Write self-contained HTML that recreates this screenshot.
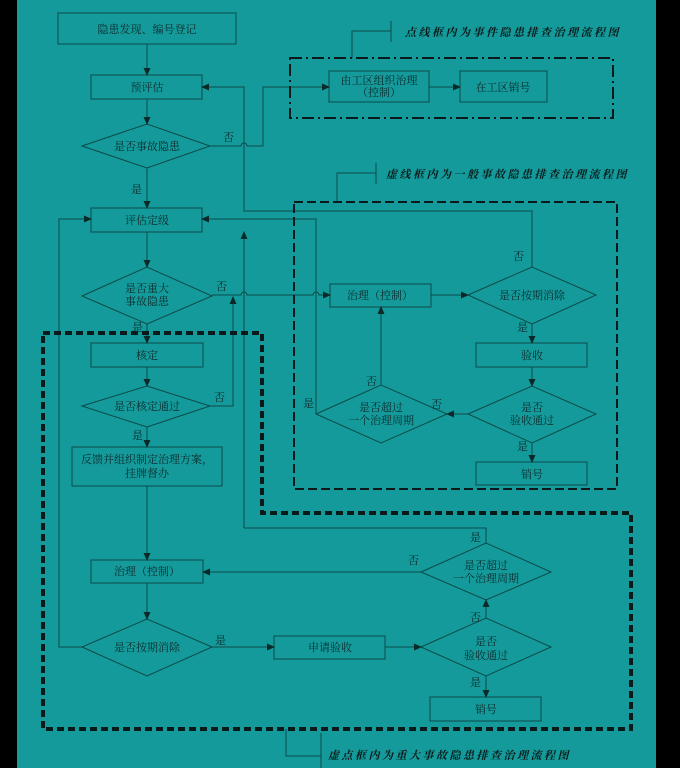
<!DOCTYPE html>
<html><head><meta charset="utf-8"><style>
html,body{margin:0;padding:0;background:#000;}
svg{display:block;}
text{font-family:"Liberation Serif","Noto Serif CJK SC","Noto Sans CJK SC",serif;fill:#0d2a2c;font-size:11px;}
.t{text-anchor:middle;}
.lb{font-weight:bold;font-style:italic;font-size:11px;letter-spacing:2.5px;fill:#0a1a1a;}
</style></head><body>
<svg width="680" height="768" viewBox="0 0 680 768" xmlns="http://www.w3.org/2000/svg">
<defs><marker id="a" markerWidth="8" markerHeight="8" refX="7" refY="4" orient="auto" markerUnits="userSpaceOnUse"><path d="M0,0.5 L8,4 L0,7.5z" fill="#0a2a2a"/></marker></defs>
<rect x="0" y="0" width="680" height="768" fill="#000"/>
<rect x="17" y="0" width="639" height="768" fill="#149a9a"/>
<g stroke="#0b4a4a" stroke-width="1" fill="none">
<rect x="58" y="13" width="178" height="31"/>
<rect x="91" y="75" width="111" height="24"/>
<polygon points="82,146 147,124 210,146 147,168"/>
<rect x="91" y="208" width="111" height="24"/>
<polygon points="82,296 147,267 212,296 147,324"/>
<rect x="91" y="343" width="112" height="24"/>
<polygon points="82,406 147,386 210,406 147,427"/>
<rect x="72" y="447" width="150" height="39"/>
<rect x="91" y="560" width="112" height="23"/>
<polygon points="82,647 147,619 212,647 147,676"/>
<rect x="274" y="636" width="111" height="23"/>
<polygon points="421,647 486,618 551,647 486,676"/>
<rect x="430" y="697" width="111" height="24"/>
<polygon points="421,572 486,543 551,572 486,600"/>
<rect x="329" y="71" width="100" height="31"/>
<rect x="460" y="71" width="87" height="31"/>
<rect x="330" y="284" width="101" height="23"/>
<polygon points="468,295 532,267 596,295 532,324"/>
<rect x="476" y="343" width="111" height="24"/>
<polygon points="468,414 532,386 596,414 532,443"/>
<polygon points="316,414 381,385 447,414 381,443"/>
<rect x="476" y="462" width="111" height="23"/>
<path d="M147,44V75" marker-end="url(#a)"/>
<path d="M147,99V124" marker-end="url(#a)"/>
<path d="M147,168V208" marker-end="url(#a)"/>
<path d="M147,232V267" marker-end="url(#a)"/>
<path d="M147,324V343" marker-end="url(#a)"/>
<path d="M147,367V386" marker-end="url(#a)"/>
<path d="M147,427V447" marker-end="url(#a)"/>
<path d="M147,486V560" marker-end="url(#a)"/>
<path d="M147,583V619" marker-end="url(#a)"/>
<path d="M210,146H241a3,3 0 0 1 6,0H263V87H329" marker-end="url(#a)"/>
<path d="M429,87H460" marker-end="url(#a)"/>
<path d="M532,267V211H244V87H202" marker-end="url(#a)"/>
<path d="M316,414V219H202" marker-end="url(#a)"/>
<path d="M244,528V232" marker-end="url(#a)"/>
<path d="M486,543V528H244"/>
<path d="M212,295H241a3,3 0 0 1 6,0H313a3,3 0 0 1 6,0H330" marker-end="url(#a)"/>
<path d="M210,406H233V297" marker-end="url(#a)"/>
<path d="M431,295H468" marker-end="url(#a)"/>
<path d="M532,324V343" marker-end="url(#a)"/>
<path d="M532,367V386" marker-end="url(#a)"/>
<path d="M468,414H447" marker-end="url(#a)"/>
<path d="M381,385V307" marker-end="url(#a)"/>
<path d="M532,443V462" marker-end="url(#a)"/>
<path d="M421,572H203" marker-end="url(#a)"/>
<path d="M212,647H274" marker-end="url(#a)"/>
<path d="M385,647H421" marker-end="url(#a)"/>
<path d="M486,618V600" marker-end="url(#a)"/>
<path d="M486,676V697" marker-end="url(#a)"/>
<path d="M82,647H59V219H91" marker-end="url(#a)"/>
<path d="M352,58V31H391M391,21V42"/>
<path d="M337,202V173H376M376,163V184"/>
<path d="M286,729V756H321M321,733V768"/>
</g>
<g fill="none" stroke="#0a1a1a">
<rect x="290" y="58" width="323" height="60" stroke-width="2" stroke-dasharray="12,4,2,4"/>
<rect x="294" y="202" width="323" height="287" stroke-width="2" stroke-dasharray="9,4"/>
<path d="M43,333H262V513H631V729H43Z" stroke-width="4" stroke-dasharray="7,4"/>
</g>
<text class="t" x="147" y="33">隐患发现、编号登记</text>
<text class="t" x="147" y="91">预评估</text>
<text class="t" x="147" y="150">是否事故隐患</text>
<text class="t" x="147" y="224">评估定级</text>
<text class="t" x="147" y="292">是否重大</text>
<text class="t" x="147" y="305">事故隐患</text>
<text class="t" x="147" y="359">核定</text>
<text class="t" x="147" y="410">是否核定通过</text>
<text class="t" x="147" y="463">反馈并组织制定治理方案，</text>
<text class="t" x="147" y="477">挂牌督办</text>
<text class="t" x="147" y="575">治理（控制）</text>
<text class="t" x="147" y="651">是否按期消除</text>
<text class="t" x="330" y="651">申请验收</text>
<text class="t" x="486" y="645">是否</text>
<text class="t" x="486" y="659">验收通过</text>
<text class="t" x="486" y="713">销号</text>
<text class="t" x="486" y="569">是否超过</text>
<text class="t" x="486" y="582">一个治理周期</text>
<text class="t" x="379" y="84">由工区组织治理</text>
<text class="t" x="379" y="96">（控制）</text>
<text class="t" x="503" y="91">在工区销号</text>
<text class="t" x="380" y="299">治理（控制）</text>
<text class="t" x="532" y="299">是否按期消除</text>
<text class="t" x="532" y="359">验收</text>
<text class="t" x="532" y="411">是否</text>
<text class="t" x="532" y="424">验收通过</text>
<text class="t" x="381" y="411">是否超过</text>
<text class="t" x="381" y="424">一个治理周期</text>
<text class="t" x="532" y="478">销号</text>
<text x="223" y="141">否</text>
<text x="131" y="193">是</text>
<text x="216" y="290">否</text>
<text x="132" y="331">是</text>
<text x="214" y="401">否</text>
<text x="132" y="439">是</text>
<text x="513" y="260">否</text>
<text x="517" y="331">是</text>
<text x="431" y="408">否</text>
<text x="366" y="385">否</text>
<text x="303" y="407">是</text>
<text x="517" y="450">是</text>
<text x="470" y="541">是</text>
<text x="408" y="564">否</text>
<text x="215" y="644">是</text>
<text x="470" y="621">否</text>
<text x="470" y="686">是</text>
<text class="lb" x="405" y="36">点线框内为事件隐患排查治理流程图</text>
<text class="lb" x="386" y="178">虚线框内为一般事故隐患排查治理流程图</text>
<text class="lb" x="328" y="759">虚点框内为重大事故隐患排查治理流程图</text>
</svg>
</body></html>
